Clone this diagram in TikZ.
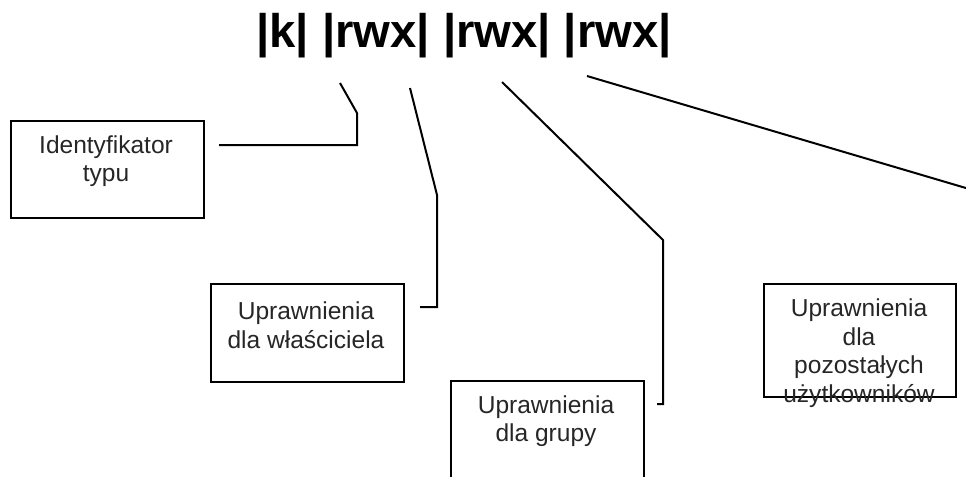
\documentclass[tikz,border=0pt]{standalone}
\usepackage{fontspec}
\setmainfont{Liberation Sans}
\begin{document}
\begin{tikzpicture}[x=0.75pt,y=-0.75pt,
  boxnode/.style={draw=black,line width=1.5pt,minimum width=#1,inner sep=0pt,anchor=north west},
  txt/.style={align=center,font=\fontsize{18.4}{21.5}\selectfont,text=black!85,inner sep=0pt},
  conn/.style={line width=1.5pt,line join=miter}]
\useasboundingbox (0,0) rectangle (966,476);
\clip (0,0) rectangle (966,476);
% title
\node[anchor=base,font=\bfseries\fontsize{35.4}{40}\selectfont,inner sep=0pt] (title) at (464,47) {|k| |rwx| |rwx| |rwx|};
% boxes
\node[boxnode=193*0.75pt,minimum height=97*0.75pt] (b1) at (10,120) {};
\node[boxnode=193*0.75pt,minimum height=98*0.75pt] (b2) at (210,283) {};
\node[boxnode=193*0.75pt,minimum height=100*0.75pt] (b3) at (450,380) {};
\node[boxnode=192*0.75pt,minimum height=113*0.75pt] (b4) at (763,283) {};
% texts
\node[txt] (t1) at (106,161) {Identyfikator\\typu};
\node[txt] (t2) at (306,325) {Uprawnienia\\dla właściciela};
\node[txt] (t3) at (546,421) {Uprawnienia\\dla grupy};
\node[txt] (t4) at (859,353) {Uprawnienia\\dla\\pozostałych\\użytkowników};
% connector coordinates
\coordinate (k0) at (340,83);
\coordinate (k1) at (357,113);
\coordinate (k2) at (357,145);
\coordinate (k3) at (219,145);
\coordinate (o0) at (410,88);
\coordinate (o1) at (437,195);
\coordinate (o2) at (437,307);
\coordinate (o3) at (420,307);
\coordinate (g0) at (502,82);
\coordinate (g1) at (663,240);
\coordinate (g2) at (663,404);
\coordinate (g3) at (657,404);
\coordinate (r0) at (587,76);
\coordinate (r1) at (976,191);
\draw[conn] (k0) -- (k1) -- (k2) -- (k3);
\draw[conn] (o0) -- (o1) -- (o2) -- (o3);
\draw[conn] (g0) -- (g1) -- (g2) -- (g3);
\draw[conn] (r0) -- (r1);
\end{tikzpicture}
\end{document}
